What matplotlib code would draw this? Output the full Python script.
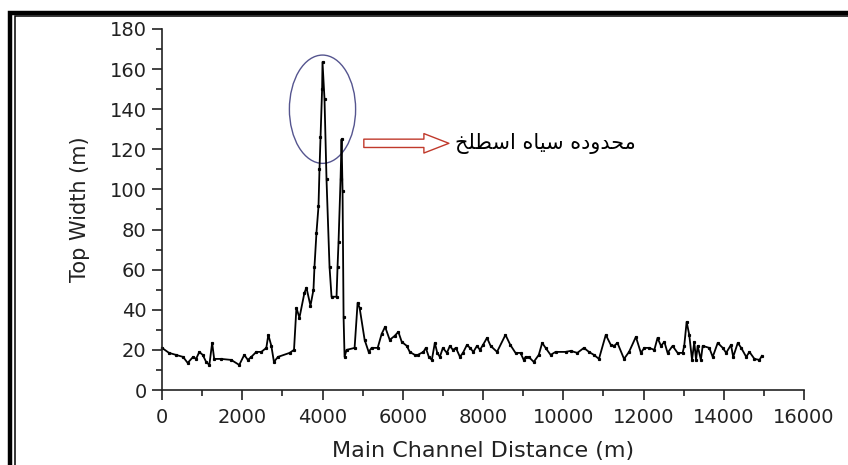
import matplotlib
matplotlib.use("Agg")
import matplotlib.pyplot as plt
import matplotlib.patches as mpatches
from matplotlib.ticker import MultipleLocator

# Main channel distance (m) and top width (m)
distance = [0, 175, 350, 525, 640, 775, 850, 930, 1015, 1100, 1180, 1250, 1300,
            1475, 1725, 1925, 2050, 2140, 2225, 2350, 2475, 2600, 2650, 2725,
            2790, 2890, 3180, 3290, 3350, 3425, 3550, 3600, 3700, 3775, 3800,
            3850, 3900, 3925, 3950, 3990, 4000, 4050, 4100, 4175, 4225, 4350,
            4375, 4400, 4450, 4475, 4500, 4525, 4550, 4600, 4800, 4875, 4925,
            5050, 5150, 5225, 5375, 5475, 5560, 5675, 5800, 5890, 5975, 6100,
            6175, 6300, 6375, 6515, 6575, 6650, 6725, 6800, 6860, 6925, 7000,
            7100, 7175, 7250, 7325, 7425, 7500, 7600, 7675, 7760, 7850, 7925,
            8000, 8100, 8190, 8350, 8560, 8680, 8810, 8935, 9015, 9060, 9140,
            9265, 9390, 9475, 9560, 9685, 9810, 10060, 10185, 10350, 10515,
            10640, 10765, 10890, 11060, 11185, 11270, 11350, 11515, 11640,
            11810, 11935, 12020, 12140, 12270, 12350, 12435, 12520, 12600,
            12725, 12850, 12975, 13015, 13075, 13140, 13210, 13265, 13310,
            13350, 13430, 13475, 13640, 13725, 13850, 13975, 14060, 14180,
            14235, 14350, 14435, 14560, 14640, 14765, 14890, 14950]
top_width = [21, 18.5, 17.5, 16.5, 13.5, 16.5, 15.5, 19, 17.5, 14, 12.5, 23.5, 15.5,
             15.5, 15, 12.5, 17.5, 15, 16.5, 19, 19, 21, 27.5, 22,
             14, 16.5, 18.5, 20, 41, 36, 48.5, 51, 42, 50, 61.5,
             78.5, 91.5, 110, 126, 150, 163.5, 145, 105, 61.5, 46.5, 46.5,
             61.5, 74, 105, 125, 99, 36.5, 16.5, 20, 21, 43.5, 41,
             25, 19, 21, 21, 28, 31.5, 25, 27, 29, 24, 22,
             19, 17.5, 17.5, 19, 21, 16.5, 15, 23.5, 18.5, 16.5, 21,
             18.5, 22, 20, 21, 16.5, 18.5, 22.5, 21, 19, 22, 20,
             22.5, 26, 22, 19, 27.5, 22.5, 18.5, 18.5, 15, 16.5, 16.5,
             14, 17.5, 23.5, 21, 17.5, 19, 19, 19.5, 18.5, 21,
             19, 17.5, 15.5, 27.5, 22.5, 22, 23.5, 15.5, 19,
             26.5, 18.5, 21, 21, 20, 26, 22, 24, 18.5,
             22, 18.5, 18.5, 22, 34, 27.5, 15, 24, 15,
             22, 15, 22, 21, 16.5, 23.5, 21, 18.5, 22.5,
             16.5, 23.5, 21, 16.5, 19, 15.5, 15, 17]

label_text = "محدوده سیاه اسطلخ"

# presentation forms: isolated, final, initial, medial
FORMS = {
    'ا': ('\uFE8D', '\uFE8E', None, None),
    'د': ('\uFEA9', '\uFEAA', None, None),
    'و': ('\uFEED', '\uFEEE', None, None),
    'م': ('\uFEE1', '\uFEE2', '\uFEE3', '\uFEE4'),
    'ح': ('\uFEA1', '\uFEA2', '\uFEA3', '\uFEA4'),
    'خ': ('\uFEA5', '\uFEA6', '\uFEA7', '\uFEA8'),
    'ه': ('\uFEE9', '\uFEEA', '\uFEEB', '\uFEEC'),
    'س': ('\uFEB1', '\uFEB2', '\uFEB3', '\uFEB4'),
    'ط': ('\uFEC1', '\uFEC2', '\uFEC3', '\uFEC4'),
    'ل': ('\uFEDD', '\uFEDE', '\uFEDF', '\uFEE0'),
    'ی': ('\uFBFC', '\uFBFD', '\uFBFE', '\uFBFF'),
}


def shape_rtl(text):
    # join letters and flip to visual order, matplotlib has no shaping
    out = []
    for i, ch in enumerate(text):
        if ch not in FORMS:
            out.append(ch)
            continue
        prev = text[i - 1] if i > 0 else ''
        nxt = text[i + 1] if i + 1 < len(text) else ''
        jp = prev in FORMS and FORMS[prev][2] is not None
        jn = FORMS[ch][2] is not None and nxt in FORMS
        f = FORMS[ch]
        if jp and jn:
            out.append(f[3])
        elif jp:
            out.append(f[1])
        elif jn:
            out.append(f[2])
        else:
            out.append(f[0])
    return ''.join(reversed(out))


plt.rcParams['font.family'] = ['DejaVu Sans']

fig = plt.figure(figsize=(8.48, 4.65), dpi=100)
fig.patch.set_facecolor('white')
ax = fig.add_axes([162 / 848, 1 - 390 / 465, 642 / 848, 361 / 465])

ax.plot(distance, top_width, color='black', lw=1.3, marker='s', ms=1.3,
        clip_on=False)

ax.set_xlim(0, 16000)
ax.set_ylim(0, 180)
ax.xaxis.set_major_locator(MultipleLocator(2000))
ax.xaxis.set_minor_locator(MultipleLocator(1000))
ax.yaxis.set_major_locator(MultipleLocator(20))
ax.yaxis.set_minor_locator(MultipleLocator(10))
ax.tick_params(which='major', length=7, width=1.2, labelsize=14, color='#222222',
               labelcolor='#222222')
ax.tick_params(which='minor', length=4, width=1.2, color='#222222')
ax.tick_params(axis='y', pad=4)
ax.tick_params(axis='x', pad=6)

for s in ['top', 'right']:
    ax.spines[s].set_visible(False)
for s in ['left', 'bottom']:
    ax.spines[s].set_linewidth(1.2)
    ax.spines[s].set_color('#222222')

ax.set_xlabel("Main Channel Distance (m)", fontsize=16, color='#222222', labelpad=10)
ax.set_ylabel("Top Width (m)", fontsize=15, color='#222222', labelpad=14)

# ellipse around the peak
ax.add_patch(mpatches.Ellipse((4000, 140), 1650, 54, fill=False,
                              ec='#55558f', lw=1.0))

# hollow arrow pointing at the label
ax.annotate('', xy=(7150, 123), xytext=(5030, 123),
            arrowprops=dict(arrowstyle='simple,head_length=0.9,head_width=0.7,tail_width=0.3',
                            fc='white', ec='#c0392b', lw=1.0, mutation_scale=20,
                            shrinkA=0, shrinkB=0))
ax.text(7300, 123, shape_rtl(label_text), fontsize=15, ha='left', va='center',
        color='black')

# double frame around the figure (cut at the right and bottom)
fig.add_artist(mpatches.Rectangle((10 / 848, -0.2), 1.2, 1.2 - 13 / 465,
                                  transform=fig.transFigure, fill=False,
                                  ec='black', lw=3.2))
fig.add_artist(mpatches.Rectangle((14.5 / 848, -0.2), 1.2, 1.2 - 16.5 / 465,
                                  transform=fig.transFigure, fill=False,
                                  ec='black', lw=1.1))

fig.savefig('out.png', dpi=100)
